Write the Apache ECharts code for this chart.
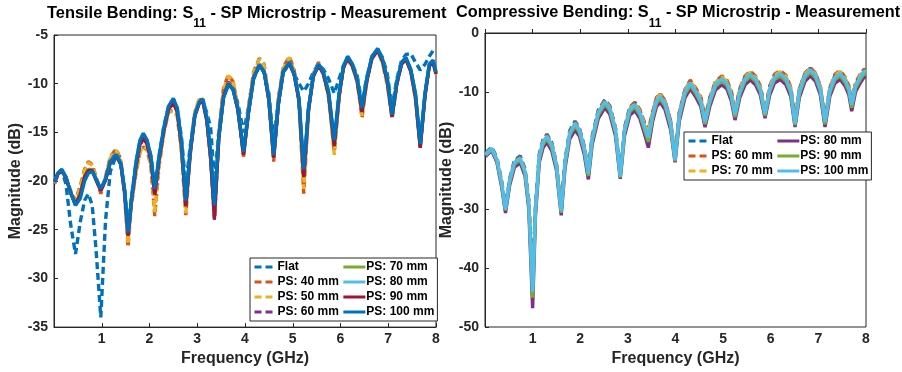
<!DOCTYPE html>
<html><head><meta charset="utf-8">
<script src="https://cdn.jsdelivr.net/npm/echarts@6/dist/echarts.min.js"></script>
<style>html,body{margin:0;padding:0;background:#fff}#c{width:902px;height:372px}</style>
</head><body><div id="c"></div>
<script>
// ---------- Left chart: Tensile bending ----------
const freqL = [0.01,0.08,0.16,0.25,0.35,0.45,0.55,0.64,0.72,0.80,
0.88,0.98,1.08,1.18,1.30,1.40,1.48,1.55,1.62,1.72,
1.80,1.87,1.95,2.03,2.11,2.20,2.30,2.40,2.50,2.58,
2.67,2.76,2.85,2.95,3.05,3.12,3.20,3.28,3.36,3.45,
3.55,3.65,3.75,3.85,3.97,4.07,4.18,4.30,4.40,4.50,
4.60,4.70,4.80,4.93,5.03,5.13,5.23,5.33,5.43,5.54,
5.64,5.75,5.87,5.97,6.06,6.15,6.25,6.35,6.45,6.55,
6.66,6.78,6.88,6.98,7.08,7.18,7.28,7.37,7.47,7.57,
7.67,7.77,7.86,7.94,8.00];
const L_flat = [-20.2,-19.4,-18.9,-20.3,-24.5,-27.5,-24.2,-22.0,-21.3,-22.5,
-27.0,-34.0,-24.0,-19.0,-17.4,-18.3,-21.0,-25.0,-21.8,-18.0,
-15.9,-15.3,-15.9,-17.4,-20.5,-17.4,-14.4,-12.3,-11.6,-12.5,
-15.5,-20.5,-16.5,-13.0,-11.8,-11.8,-13.0,-14.5,-20.0,-15.0,
-11.3,-10.2,-10.5,-12.0,-15.0,-12.5,-9.5,-8.2,-8.8,-11.0,
-16.0,-11.5,-8.8,-8.0,-9.0,-10.0,-10.8,-10.0,-8.8,-8.0,
-8.5,-9.5,-11.0,-9.5,-8.2,-7.3,-8.0,-9.2,-12.0,-9.3,
-7.3,-6.5,-7.3,-9.0,-12.5,-9.5,-7.6,-7.0,-6.9,-7.8,
-8.6,-8.0,-7.2,-6.6,-6.4];
const L_ps40 = [-20.3,-19.3,-18.9,-19.6,-21.0,-22.0,-20.5,-18.8,-18.0,-18.3,
-19.5,-21.3,-19.5,-17.5,-16.7,-17.8,-21.5,-26.8,-22.5,-19.0,
-17.0,-16.5,-16.8,-18.5,-23.6,-18.5,-15.0,-12.8,-12.8,-13.2,
-17.0,-23.5,-17.5,-13.0,-11.6,-11.8,-13.8,-17.8,-23.0,-15.0,
-10.5,-9.1,-9.8,-12.3,-17.5,-12.5,-8.8,-7.4,-8.0,-11.5,
-18.0,-11.5,-8.3,-7.2,-8.6,-11.8,-21.3,-12.8,-9.0,-7.8,
-8.8,-11.2,-17.0,-11.3,-8.3,-7.5,-8.2,-9.8,-13.5,-9.8,
-7.0,-6.6,-7.8,-10.0,-13.6,-10.0,-7.8,-7.5,-8.6,-11.5,
-16.5,-11.2,-8.0,-7.8,-9.0];
const L_ps50 = [-20.2,-19.3,-18.9,-19.7,-21.1,-22.1,-20.6,-18.9,-18.1,-18.4,
-19.6,-21.0,-19.6,-17.6,-16.8,-17.9,-21.4,-26.5,-22.4,-19.1,
-17.1,-16.4,-16.7,-18.4,-23.2,-18.4,-15.1,-12.9,-12.9,-13.3,
-17.1,-23.3,-17.4,-12.8,-11.4,-11.6,-13.6,-17.6,-22.8,-15.2,
-10.6,-9.2,-9.6,-12.4,-17.3,-12.6,-8.9,-7.5,-8.1,-11.8,
-17.8,-11.6,-8.4,-7.3,-8.7,-12.0,-20.8,-12.9,-9.1,-7.9,
-9.0,-11.5,-17.3,-11.5,-8.4,-7.6,-8.3,-9.9,-13.3,-9.9,
-7.1,-6.7,-7.9,-10.2,-13.5,-10.1,-7.9,-7.6,-8.7,-11.6,
-16.3,-11.3,-8.1,-7.9,-9.1];
const L_ps60 = [-20.1,-19.3,-18.9,-19.7,-21.3,-22.4,-21.3,-19.6,-18.9,-18.9,
-19.8,-20.9,-19.8,-18.0,-17.1,-18.2,-21.2,-25.6,-22.1,-18.4,
-16.3,-15.7,-16.2,-17.9,-21.5,-17.8,-14.8,-12.6,-12.0,-12.8,
-16.3,-22.5,-17.2,-13.2,-11.8,-11.8,-13.7,-17.5,-24.0,-15.6,
-11.2,-9.8,-10.4,-12.6,-17.2,-13.0,-9.3,-8.0,-8.7,-11.6,
-17.6,-12.0,-8.7,-7.8,-9.0,-11.6,-19.5,-12.6,-9.2,-8.0,
-8.9,-11.0,-16.3,-11.2,-8.3,-7.4,-8.1,-9.6,-12.8,-9.6,
-7.3,-6.6,-7.6,-9.7,-13.3,-9.9,-7.9,-7.4,-8.6,-11.3,
-16.5,-11.1,-8.1,-7.7,-8.9];
const L_ps70 = [-20.0,-19.2,-18.8,-19.6,-21.2,-22.4,-21.2,-19.5,-18.8,-18.8,
-19.8,-20.9,-19.8,-18.0,-17.2,-18.2,-21.1,-25.5,-22.0,-18.3,
-16.2,-15.6,-16.1,-17.8,-21.3,-17.7,-14.7,-12.5,-11.9,-12.7,
-16.2,-22.4,-17.1,-13.2,-11.8,-11.7,-13.6,-17.4,-23.5,-15.6,
-11.2,-9.9,-10.5,-12.6,-17.1,-13.0,-9.3,-8.0,-8.7,-11.6,
-17.5,-12.0,-8.7,-7.8,-9.0,-11.6,-19.3,-12.6,-9.2,-8.0,
-8.9,-11.0,-16.2,-11.2,-8.3,-7.3,-8.1,-9.6,-12.7,-9.6,
-7.3,-6.5,-7.6,-9.6,-13.3,-9.9,-7.9,-7.4,-8.6,-11.2,
-16.3,-11.1,-8.1,-7.7,-8.9];
const L_ps80 = [-20.2,-19.2,-18.8,-19.6,-21.2,-22.4,-21.5,-19.8,-19.0,-18.9,
-19.8,-20.9,-19.8,-18.0,-17.2,-18.2,-21.0,-25.4,-22.0,-18.2,
-16.0,-15.4,-16.0,-17.7,-21.0,-17.6,-14.6,-12.4,-11.7,-12.6,
-16.1,-22.2,-17.0,-13.2,-11.8,-11.7,-13.5,-17.2,-23.0,-15.5,
-11.3,-10.0,-10.5,-12.5,-17.1,-13.0,-9.4,-8.0,-8.7,-11.5,
-17.4,-12.0,-8.8,-7.8,-9.0,-11.5,-19.0,-12.5,-9.2,-8.0,
-8.8,-10.9,-16.0,-11.1,-8.2,-7.2,-8.0,-9.5,-12.6,-9.5,
-7.2,-6.4,-7.5,-9.5,-13.2,-9.8,-7.8,-7.3,-8.5,-11.1,
-16.2,-11.0,-8.0,-7.6,-8.8];
const L_ps90 = [-20.1,-19.3,-18.9,-19.7,-21.2,-22.4,-21.4,-19.6,-18.9,-18.9,
-19.9,-21.0,-19.9,-18.1,-17.3,-18.3,-21.2,-25.6,-22.1,-18.4,
-16.2,-15.6,-16.2,-17.9,-21.4,-17.8,-14.8,-12.6,-12.0,-12.9,
-16.4,-22.6,-17.2,-13.3,-11.9,-11.9,-13.8,-17.6,-23.8,-15.7,
-11.3,-10.0,-10.6,-12.7,-17.3,-13.1,-9.4,-8.1,-8.8,-11.7,
-17.6,-12.1,-8.8,-7.9,-9.1,-11.7,-19.6,-12.7,-9.3,-8.1,
-9.0,-11.1,-16.4,-11.3,-8.4,-7.4,-8.2,-9.7,-12.9,-9.7,
-7.4,-6.6,-7.7,-9.8,-13.4,-10.0,-8.0,-7.5,-8.7,-11.4,
-16.6,-11.2,-8.2,-7.8,-9.0];
const L_ps100 = [-20.0,-19.2,-18.8,-19.6,-21.2,-22.5,-21.8,-20.0,-19.2,-19.0,
-19.8,-20.8,-19.8,-18.0,-17.3,-18.2,-21.0,-25.3,-22.0,-18.0,
-15.8,-15.1,-15.8,-17.5,-20.8,-17.5,-14.5,-12.3,-11.5,-12.5,
-16.0,-22.0,-17.0,-13.2,-11.8,-11.6,-13.5,-17.0,-22.5,-15.5,
-11.5,-10.1,-10.6,-12.5,-17.0,-13.0,-9.5,-8.1,-8.8,-11.5,
-17.3,-12.0,-8.8,-7.8,-9.0,-11.5,-18.8,-12.5,-9.2,-8.0,
-8.8,-10.8,-15.8,-11.0,-8.2,-7.2,-8.0,-9.5,-12.5,-9.5,
-7.2,-6.4,-7.5,-9.5,-13.2,-9.8,-7.8,-7.3,-8.5,-11.0,
-16.2,-11.0,-8.0,-7.6,-8.8];

// ---------- Right chart: Compressive bending ----------
const freqR = [0.01,0.14,0.25,0.35,0.43,0.52,0.62,0.74,0.84,0.92,
1.00,1.06,1.14,1.22,1.30,1.40,1.50,1.60,1.68,1.78,
1.89,1.98,2.08,2.17,2.25,2.38,2.52,2.62,2.74,2.84,
2.93,3.04,3.15,3.25,3.35,3.43,3.52,3.60,3.68,3.78,
3.90,3.99,4.08,4.20,4.31,4.42,4.53,4.62,4.72,4.84,
4.97,5.08,5.17,5.25,5.35,5.46,5.57,5.68,5.78,5.88,
5.98,6.08,6.20,6.32,6.42,6.51,6.60,6.72,6.83,6.94,
7.04,7.14,7.24,7.35,7.46,7.56,7.64,7.70,7.78,7.88,
7.96,8.00];
const R_flat = [-20.4,-19.4,-21.2,-25.2,-29.6,-24.7,-21.6,-20.9,-23.1,-28.5,
-42.0,-29.5,-20.6,-18.1,-17.2,-18.6,-22.2,-29.8,-21.6,-16.6,
-15.0,-16.1,-19.1,-23.4,-17.6,-13.1,-11.3,-12.4,-16.2,-24.0,
-16.1,-12.6,-11.8,-13.1,-15.5,-17.2,-13.6,-11.1,-10.4,-11.6,
-15.1,-21.2,-13.6,-9.7,-8.2,-9.5,-11.1,-14.6,-11.1,-8.4,
-7.5,-8.2,-10.1,-13.4,-9.6,-7.5,-6.7,-7.5,-9.1,-13.2,
-9.1,-7.2,-6.6,-7.5,-9.4,-14.8,-9.6,-6.9,-6.0,-6.9,
-9.1,-14.6,-9.4,-7.2,-6.6,-7.7,-9.1,-11.7,-8.6,-7.2,
-6.2,-6.3];
const R_ps60 = [-20.6,-19.5,-21.4,-25.4,-29.8,-24.9,-21.8,-21.1,-23.3,-28.8,
-43.0,-29.8,-20.8,-18.3,-17.4,-18.8,-22.3,-30.0,-21.8,-16.8,
-15.2,-16.3,-19.3,-23.6,-17.8,-13.3,-11.4,-12.5,-16.2,-24.2,
-16.2,-12.7,-11.8,-13.0,-15.2,-16.5,-13.4,-11.0,-10.3,-11.5,
-15.0,-21.3,-13.5,-9.6,-8.0,-9.3,-10.8,-14.5,-11.0,-8.2,
-7.3,-8.0,-9.8,-13.2,-9.4,-7.3,-6.5,-7.3,-9.0,-13.2,
-9.0,-7.0,-6.4,-7.2,-9.2,-15.0,-9.5,-6.8,-5.9,-6.8,
-9.0,-14.7,-9.3,-7.0,-6.4,-7.5,-9.0,-11.8,-8.5,-7.0,
-6.2,-6.4];
const R_ps70 = [-20.7,-19.6,-21.5,-25.6,-30.0,-25.0,-22.0,-21.4,-23.5,-29.0,
-43.5,-30.0,-21.0,-18.5,-17.6,-19.0,-22.4,-30.2,-22.0,-17.0,
-15.4,-16.5,-19.4,-23.8,-18.0,-13.5,-11.6,-12.7,-16.4,-24.3,
-16.4,-12.9,-12.0,-13.3,-15.6,-17.0,-13.7,-11.2,-10.5,-11.7,
-15.3,-21.5,-13.8,-9.8,-8.2,-9.5,-11.0,-14.8,-11.2,-8.4,
-7.5,-8.2,-10.0,-13.5,-9.6,-7.5,-6.7,-7.5,-9.2,-13.4,
-9.2,-7.2,-6.6,-7.4,-9.4,-15.2,-9.7,-7.0,-6.1,-7.0,
-9.2,-14.9,-9.5,-7.2,-6.6,-7.7,-9.2,-12.0,-8.7,-7.2,
-6.3,-6.5];
const R_ps80 = [-21.0,-20.0,-22.0,-26.2,-30.6,-25.8,-22.8,-22.1,-24.3,-30.0,
-46.8,-31.0,-22.0,-19.5,-18.6,-20.0,-23.3,-31.0,-23.0,-18.0,
-16.5,-17.5,-20.5,-24.9,-19.0,-14.5,-12.7,-13.8,-17.5,-24.8,
-17.5,-14.0,-13.2,-14.5,-17.2,-19.5,-15.0,-12.5,-11.8,-13.0,
-16.5,-22.0,-15.0,-11.0,-9.5,-10.8,-12.5,-16.0,-12.5,-9.7,
-8.8,-9.5,-11.5,-14.8,-11.0,-8.8,-8.0,-8.8,-10.5,-14.5,
-10.5,-8.5,-7.9,-8.8,-10.8,-16.0,-11.0,-8.2,-7.3,-8.2,
-10.5,-16.0,-10.8,-8.5,-7.9,-9.0,-10.5,-13.3,-10.0,-8.5,
-7.5,-7.6];
const R_ps90 = [-20.8,-19.8,-21.7,-25.8,-30.2,-25.3,-22.3,-21.6,-23.8,-29.3,
-45.0,-30.4,-21.4,-18.9,-18.0,-19.4,-22.8,-30.6,-22.4,-17.4,
-15.8,-16.9,-19.9,-24.3,-18.4,-13.9,-12.1,-13.2,-16.9,-24.6,
-16.9,-13.4,-12.6,-13.9,-16.5,-18.5,-14.4,-11.9,-11.2,-12.4,
-15.9,-21.8,-14.4,-10.4,-8.9,-10.2,-11.9,-15.5,-11.9,-9.1,
-8.2,-8.9,-10.9,-14.3,-10.4,-8.2,-7.4,-8.2,-9.9,-14.1,
-9.9,-7.9,-7.3,-8.2,-10.2,-15.7,-10.4,-7.6,-6.7,-7.6,
-9.9,-15.5,-10.2,-7.9,-7.3,-8.4,-9.9,-12.7,-9.4,-7.9,
-6.9,-7.0];
const R_ps100 = [-20.7,-19.6,-21.5,-25.5,-30.0,-25.0,-22.0,-21.3,-23.5,-29.0,
-44.0,-30.0,-21.0,-18.5,-17.6,-19.0,-22.5,-30.3,-22.0,-17.0,
-15.4,-16.5,-19.5,-23.9,-18.0,-13.5,-11.7,-12.8,-16.5,-24.4,
-16.5,-13.0,-12.2,-13.5,-16.0,-17.8,-14.0,-11.5,-10.8,-12.0,
-15.5,-21.6,-14.0,-10.0,-8.5,-9.8,-11.5,-15.1,-11.5,-8.7,
-7.8,-8.5,-10.5,-13.9,-10.0,-7.8,-7.0,-7.8,-9.5,-13.7,
-9.5,-7.5,-6.9,-7.8,-9.8,-15.4,-10.0,-7.2,-6.3,-7.2,
-9.5,-15.1,-9.8,-7.5,-6.9,-8.0,-9.5,-12.2,-9.0,-7.5,
-6.5,-6.6];

const xTicks = [1,2,3,4,5,6,7,8];
const leftNames = ['Flat','PS: 40 mm','PS: 50 mm','PS: 60 mm','PS: 70 mm','PS: 80 mm','PS: 90 mm','PS: 100 mm'];
const rightNames = ['Flat','PS: 60 mm','PS: 70 mm','PS: 80 mm','PS: 90 mm','PS: 100 mm'];

const C = {blue:'#0072BD', orange:'#D95319', yellow:'#EDB120', purple:'#7E2F8E', green:'#77AC30', cyan:'#4DBEEE', red:'#A2142F'};
const FONT = 'Liberation Sans, Arial, sans-serif';
const TXT = '#262626';

function mk(name, f, v, color, dashed, idx) {
  return {
    type:'line', name:name, xAxisIndex:idx, yAxisIndex:idx,
    data: f.map((x,i)=>[x, v[i]]),
    showSymbol:false, symbol:'none', animation:false, silent:true,
    lineStyle:{color:color, width:3.4, type: dashed ? [7,4] : 'solid'},
    itemStyle:{color:color}
  };
}
const leftSeries = [
  mk(leftNames[0], freqL, L_flat, C.blue, true, 0),
  mk(leftNames[1], freqL, L_ps40, C.orange, true, 0),
  mk(leftNames[2], freqL, L_ps50, C.yellow, true, 0),
  mk(leftNames[3], freqL, L_ps60, C.purple, true, 0),
  mk(leftNames[4], freqL, L_ps70, C.green, false, 0),
  mk(leftNames[5], freqL, L_ps80, C.cyan, false, 0),
  mk(leftNames[6], freqL, L_ps90, C.red, false, 0),
  mk(leftNames[7], freqL, L_ps100, C.blue, false, 0)
];
// a trailing space keeps the right-hand legend entries distinct from the left ones
const rightSeries = [
  mk(rightNames[0]+' ', freqR, R_flat, C.blue, true, 1),
  mk(rightNames[1]+' ', freqR, R_ps60, C.orange, true, 1),
  mk(rightNames[2]+' ', freqR, R_ps70, C.yellow, true, 1),
  mk(rightNames[3]+' ', freqR, R_ps80, C.purple, false, 1),
  mk(rightNames[4]+' ', freqR, R_ps90, C.green, false, 1),
  mk(rightNames[5]+' ', freqR, R_ps100, C.cyan, false, 1)
];

function xAx(idx, gap) {
  return {type:'value', gridIndex:idx, min:0, max:8, interval:1,
    name:'Frequency (GHz)', nameLocation:'middle', nameGap:gap,
    nameTextStyle:{fontFamily:FONT, fontWeight:'bold', fontSize:16, color:TXT},
    axisLine:{show:true, lineStyle:{color:TXT, width:1}},
    axisTick:{show:true, inside:true, length:4, lineStyle:{color:TXT}},
    axisLabel:{fontFamily:FONT, fontWeight:'bold', fontSize:14, color:TXT, margin:5,
      formatter:(v)=> xTicks.indexOf(v) >= 0 ? String(v) : ''},
    splitLine:{show:false}};
}
function yAx(idx, mn, mx, step) {
  return {type:'value', gridIndex:idx, min:mn, max:mx, interval:step,
    name:'Magnitude (dB)', nameLocation:'middle', nameGap:26,
    nameTextStyle:{fontFamily:FONT, fontWeight:'bold', fontSize:16, color:TXT},
    axisLine:{show:true, lineStyle:{color:TXT, width:1}},
    axisTick:{show:true, inside:true, length:4, lineStyle:{color:TXT}},
    axisLabel:{fontFamily:FONT, fontWeight:'bold', fontSize:14, color:TXT, margin:6},
    splitLine:{show:false}};
}
function legend(names, left, top, height) {
  return {data:names, orient:'vertical', left:left, top:top, height:height,
    itemWidth:22, itemHeight:10, itemGap:3, padding:[3,3,3,3],
    backgroundColor:'#fff', borderColor:TXT, borderWidth:1, borderRadius:0,
    selectedMode:false,
    itemStyle:{opacity:0},
    lineStyle:{width:3},
    formatter:(n)=>n.trim(),
    textStyle:{fontFamily:FONT, fontWeight:'bold', fontSize:12, color:'#000', padding:[0,0,0,-4]}};
}
const richSub = {s:{fontFamily:FONT, fontWeight:'bold', fontSize:12, color:'#000', padding:[14,0,0,0], lineHeight:12, verticalAlign:'top'}};
const option = {
  animation:false,
  backgroundColor:'#fff',
  title:[
    {text:'Tensile Bending: S{s|11} - SP Microstrip - Measurement', left:47, top:4, padding:0,
     textStyle:{fontFamily:FONT, fontWeight:'bold', fontSize:16.4, color:'#000', lineHeight:18, verticalAlign:'top', rich:richSub}},
    {text:'Compressive Bending: S{s|11} - SP Microstrip - Measurement', left:456, top:4, padding:0,
     textStyle:{fontFamily:FONT, fontWeight:'bold', fontSize:16.3, color:'#000', lineHeight:18, verticalAlign:'top', rich:richSub}}
  ],
  grid:[
    {left:54, right:466, top:35, bottom:42, show:true, borderColor:TXT, borderWidth:1, backgroundColor:'transparent'},
    {left:485, right:36, top:33, bottom:45, show:true, borderColor:TXT, borderWidth:1, backgroundColor:'transparent'}
  ],
  xAxis:[xAx(0,18), xAx(1,21)],
  yAxis:[yAx(0,-35,-5,5), yAx(1,-50,0,10)],
  legend:[
    legend(leftNames, 250, 258, 60),
    legend(rightSeries.map(s=>s.name), 684, 132, 45)
  ],
  series: leftSeries.concat(rightSeries)
};
const chart = echarts.init(document.getElementById('c'), null, {renderer:'canvas'});
chart.setOption(option);
</script></body></html>
